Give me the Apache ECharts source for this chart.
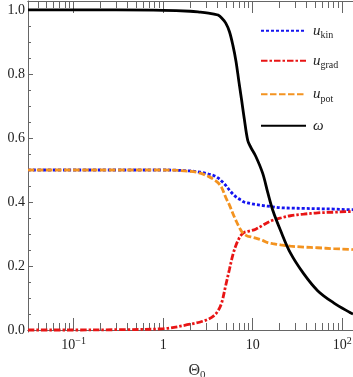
<!DOCTYPE html>
<html><head><meta charset="utf-8">
<script src="https://cdn.jsdelivr.net/npm/echarts@6/dist/echarts.min.js"></script>
<style>html,body{margin:0;padding:0;background:#fff}#c{width:353px;height:377px}</style>
</head><body><div id="c"></div>
<script>
// ---- data ----
const theta = [0.031, 0.1, 0.3, 1, 2, 2.6, 3.2, 3.7, 4.1, 4.5, 5.0, 5.5, 6.0, 6.5, 7.0, 7.5, 8.0, 8.8, 9.5, 10.8, 12.9, 14.7, 16.7, 20.5, 26.4, 37, 53, 80, 123, 131.6];
const uKin  = [0.5, 0.5, 0.5, 0.5, 0.497, 0.493, 0.487, 0.482, 0.475, 0.465, 0.452, 0.437, 0.425, 0.416, 0.41, 0.405, 0.4, 0.397, 0.395, 0.392, 0.389, 0.387, 0.385, 0.382, 0.381, 0.38, 0.379, 0.378, 0.376, 0.376];
const uGrad = [0, 0, 0.001, 0.004, 0.018, 0.025, 0.034, 0.045, 0.06, 0.085, 0.14, 0.19, 0.235, 0.265, 0.285, 0.298, 0.305, 0.308, 0.31, 0.315, 0.327, 0.336, 0.343, 0.35, 0.357, 0.362, 0.366, 0.368, 0.37, 0.37];
const uPot  = [0.5, 0.5, 0.5, 0.5, 0.496, 0.49, 0.48, 0.47, 0.46, 0.445, 0.414, 0.39, 0.364, 0.342, 0.323, 0.308, 0.3, 0.293, 0.291, 0.287, 0.28, 0.273, 0.27, 0.266, 0.262, 0.259, 0.257, 0.254, 0.252, 0.251];
const omega = [1.0, 1.0, 1.0, 0.999, 0.996, 0.993, 0.99, 0.987, 0.984, 0.975, 0.959, 0.932, 0.89, 0.84, 0.777, 0.72, 0.665, 0.592, 0.571, 0.543, 0.49, 0.43, 0.375, 0.31, 0.24, 0.176, 0.123, 0.085, 0.054, 0.05];

const seriesNames = ['ukin', 'ugrad', 'upot', 'omega'];
const legendLabels = ['{u|u}{s|kin}', '{u|u}{s|grad}', '{u|u}{s|pot}', '{u|ω}'];

const xMajorTicks = [0.1, 1, 10, 100];
const xTickLabels = ['10{sup|−1}', '1', '10', '10{sup|2}'];
const xMinorTicks = [0.04, 0.05, 0.06, 0.07, 0.08, 0.09, 0.2, 0.3, 0.4, 0.5, 0.6, 0.7, 0.8, 0.9, 2, 3, 4, 5, 6, 7, 8, 9, 20, 30, 40, 50, 60, 70, 80, 90];
const yMajorTicks = [0, 0.2, 0.4, 0.6, 0.8, 1.0];
const yMinorTicks = [0.05, 0.1, 0.15, 0.25, 0.3, 0.35, 0.45, 0.5, 0.55, 0.65, 0.7, 0.75, 0.85, 0.9, 0.95];

const X_MIN = 0.031, X_MAX = 131.6, Y_MIN = -0.00625, Y_MAX = 1.028;
const FONT = '"Liberation Serif", "DejaVu Serif", serif';
const AX = '#666';

function pairs(ys) { return theta.map((t, i) => [t, ys[i]]); }

function xAxisDef(pos, major, withLabels) {
  return {
    type: 'log', logBase: 10, min: X_MIN, max: X_MAX, position: pos,
    gridIndex: 0,
    axisLine: { show: true, lineStyle: { color: AX, width: 1 } },
    axisTick: { show: true, inside: true, length: major ? 12 : 7, customValues: major ? xMajorTicks : xMinorTicks,
      lineStyle: { color: AX, width: 1 } },
    minorTick: { show: false },
    splitLine: { show: false },
    axisLabel: withLabels ? {
      show: true, customValues: xMajorTicks, margin: 4,
      fontFamily: FONT, fontSize: 14, color: '#222', lineHeight: 18,
      formatter: v => { const i = xMajorTicks.findIndex(m => Math.abs(m - v) / m < 1e-6); return i >= 0 ? xTickLabels[i] : ''; },
      rich: { sup: { fontFamily: FONT, fontSize: 10, lineHeight: 10, verticalAlign: 'top', color: '#222' } }
    } : { show: false },
    name: withLabels ? 'Θ{sub|0}' : '',
    nameLocation: 'middle', nameGap: 29,
    nameTextStyle: withLabels ? { fontFamily: FONT, fontSize: 16, color: '#333', padding: [0, 0, 0, 13], lineHeight: 20,
      rich: { sub: { fontFamily: FONT, fontSize: 11, lineHeight: 12, verticalAlign: 'bottom', color: '#333' } } } : {}
  };
}
function yAxisDef(major, withLabels) {
  return {
    type: 'value', min: Y_MIN, max: Y_MAX, position: 'left', gridIndex: 0,
    axisLine: { show: major, lineStyle: { color: AX, width: 1 } },
    axisTick: { show: true, inside: true, length: major ? 5 : 3, customValues: major ? yMajorTicks : yMinorTicks,
      lineStyle: { color: AX, width: 1 } },
    splitLine: { show: false },
    axisLabel: withLabels ? { show: true, customValues: yMajorTicks, margin: 3, fontFamily: FONT, fontSize: 14, color: '#222',
      formatter: v => v.toFixed(1) } : { show: false }
  };
}

const styles = [
  { color: '#1414f0', width: 2.8, type: [3, 2] },
  { color: '#e81515', width: 2.8, type: [6.5, 2, 2.5, 2] },
  { color: '#f39320', width: 2.8, type: [6.5, 2.5] },
  { color: '#000000', width: 2.8, type: 'solid' }
];
const dataSets = [uKin, uGrad, uPot, omega];
const legendCenters = [33.3, 63.3, 96.7, 128.3];

const chart = echarts.init(document.getElementById('c'), null, { renderer: 'canvas' });
chart.setOption({
  animation: false,
  backgroundColor: '#fff',
  grid: { left: 28, right: 0, top: 1, bottom: 45, containLabel: false, outerBoundsMode: 'none' },
  xAxis: [xAxisDef('bottom', true, true), xAxisDef('bottom', false, false), xAxisDef('top', true, false), xAxisDef('top', false, false)],
  yAxis: [yAxisDef(true, true), yAxisDef(false, false)],
  legend: seriesNames.map((n, i) => ({
    data: [n], left: 260, top: legendCenters[i] - 10, padding: 0,
    itemWidth: 45, itemHeight: 14, selectedMode: false,
    itemStyle: { color: 'rgba(0,0,0,0)', borderColor: 'rgba(0,0,0,0)', borderWidth: 0, opacity: 0 },
    formatter: () => legendLabels[i],
    textStyle: {
      padding: [0, 0, 0, 2],
      rich: {
        u: { fontFamily: FONT, fontStyle: 'italic', fontSize: 15, lineHeight: 20, color: '#222' },
        s: { fontFamily: FONT, fontSize: 10, lineHeight: 12, verticalAlign: 'bottom', color: '#222' }
      }
    }
  })),
  series: seriesNames.map((n, i) => ({
    name: n, type: 'line', xAxisIndex: 0, yAxisIndex: 0,
    data: pairs(dataSets[i]),
    symbol: 'none', showSymbol: false,
    smooth: 0.35,
    lineStyle: { color: styles[i].color, width: styles[i].width, type: styles[i].type, cap: 'butt' },
    itemStyle: { color: styles[i].color },
    z: 2 + i
  }))
});
</script>
</body></html>
